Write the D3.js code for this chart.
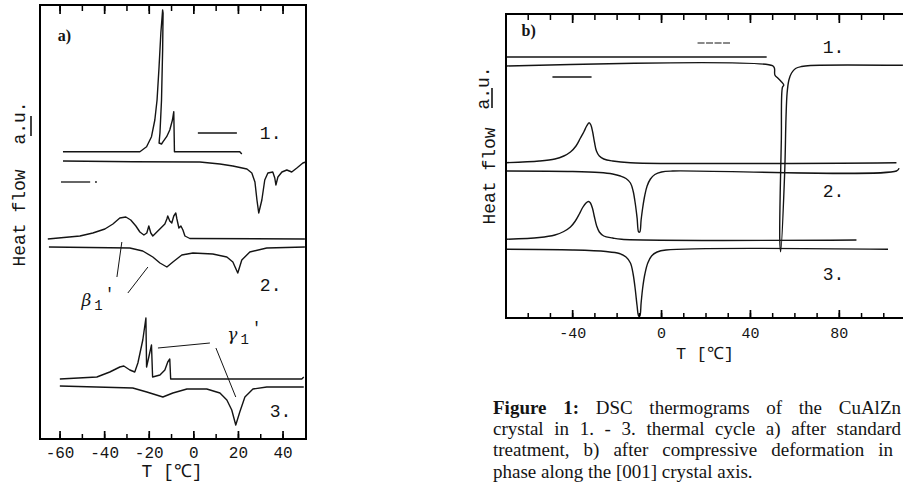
<!DOCTYPE html>
<html><head><meta charset="utf-8">
<script src="https://cdn.jsdelivr.net/npm/d3@7"></script>
<style>
html,body{margin:0;padding:0;background:#fff;overflow:hidden}
svg{display:block}
</style></head><body>
<svg id="c" width="903" height="484"></svg>
<script>
// ---------- DATA (T in °C, heat flow in arbitrary units) ----------
const aMajorTicks = [-60, -40, -20, 0, 20, 40];
const aMinorTicks = [-60, -50, -40, -30, -20, -10, 0, 10, 20, 30, 40];
const bMajorTicks = [-40, 0, 40, 80];
const bMinorTicks = [-60, -50, -40, -30, -20, -10, 0, 10, 20, 30, 40, 50, 60, 70, 80, 90, 100];

// Panel a) – cycle 1
const a1Cooling = [[-58.7,287.3],[-24.2,287.3],[-21.2,292.3],[-19.0,302.3],[-17.5,319],[-16.5,339],[-15.6,372.3],[-14.8,406],[-14.0,429],[-13.8,426],[-14.0,389],[-14.5,339],[-15.2,306],[-15.6,296],[-14.5,295],[-13.8,297.3],[-12.2,302.3],[-10.8,309],[-9.6,319],[-9.0,327.3],[-8.7,287.3],[20.6,287.3],[21.5,285]];
const a1Heating = [[-58.7,278],[-27.4,277.3],[2.7,277],[7.2,276],[11.7,275],[17.5,273],[23.8,270],[26.0,266],[27.4,257],[28.3,239],[29.1,226],[30.5,239],[31.8,259],[33.2,266],[35.4,267],[36.3,261],[36.8,254],[37.7,262],[39.5,267],[41.7,269],[43.9,267],[46.2,271],[48.9,276],[50.2,277]];
// Panel a) – cycle 2
const a2Cooling = [[-65.5,200],[-51.1,203],[-45.3,206],[-39.9,210],[-36.3,215],[-33.2,221],[-30.5,222],[-28.3,219],[-26.0,213],[-24.2,207],[-22.4,204],[-21.1,206],[-20.2,213],[-19.3,206],[-18.4,203],[-16.6,207],[-14.8,211],[-13.0,215],[-12.1,220],[-11.7,223],[-10.8,218],[-9.9,216],[-9.0,223],[-8.1,226],[-7.6,220],[-6.7,211],[-5.8,213],[-4.9,209],[-4.0,203],[-1.8,200.5],[49.8,200]];
const a2Heating = [[-65.0,192],[-28.7,191],[-22.9,188],[-18.4,182],[-15.2,176],[-12.1,172],[-9.4,177],[-5.4,184],[-0.4,186],[8.5,185],[14.8,182],[17.5,177],[19.7,166],[21.5,179],[25.1,187],[32.7,191],[49.8,192]];
// Panel a) – cycle 3
const a3Cooling = [[-60.1,60],[-43.5,62],[-37.7,67],[-33.2,72],[-31.4,73],[-28.7,69],[-26.5,67],[-25.1,76],[-22.9,99],[-21.5,121],[-21.2,72],[-20.2,82],[-19.0,94],[-18.5,62],[-15.2,64],[-13.0,69],[-11.7,77],[-10.8,80],[-10.4,60],[48.4,60],[49.3,62]];
const a3Heating = [[-60.1,53],[-27.4,51],[-21.1,47],[-13.9,42],[-9.4,46],[-3.1,50],[5.8,50],[11.7,46],[14.8,39],[17.0,29],[18.8,14],[20.6,27],[22.9,42],[26.5,50],[32.7,52],[49.3,52]];

// Panel b) – cycles 1..3
const b1Cooling = [[-69.8,261],[47.3,261]];
const b1Heating = [[-69.8,252],[49.9,252.3],[50.8,249.7],[51.0,243],[52.4,239.7],[53.9,236.3],[55.0,233],[54.4,230.7],[53.9,178],[53.2,78],[53.6,66.3],[55.4,145],[56.0,200],[56.5,225],[57.3,238],[58.5,245],[60.3,249.5],[63.0,251.5],[67.0,252.5],[108.6,252.7]];
const b2Cooling = [[-70.0,155.3],[-55.0,157],[-48.0,159],[-44.0,162],[-41.0,166],[-38.5,172],[-36.5,180],[-35.0,186],[-33.7,192],[-32.6,195.3],[-31.8,193],[-31.0,186],[-30.2,176],[-29.3,167],[-28.0,162],[-26.0,159],[-22.0,157],[-14.0,155.3],[105.7,155.3]];
const b2Heating = [[-70.0,147],[-40.0,146.5],[-28.0,145.5],[-22.0,144],[-18.5,142],[-16.0,139.5],[-14.0,135],[-12.8,127],[-11.8,114],[-11.0,100],[-10.3,86],[-9.8,86],[-9.2,98],[-8.5,110],[-7.6,122],[-6.5,132],[-5.0,139],[-3.0,143.5],[0.0,146],[5.0,147],[105.7,147],[106.9,149.7]];
const b3Cooling = [[-70.0,78.7],[-55.0,80.5],[-48.0,83],[-44.0,86.5],[-41.0,91],[-38.8,97],[-37.0,104],[-35.5,110.5],[-34.0,115],[-32.9,116.5],[-32.0,115],[-31.0,109],[-30.2,101],[-29.2,92],[-28.0,86],[-26.0,82],[-22.0,80],[-18.0,78.7],[87.7,78]];
const b3Heating = [[-70.0,68.7],[-40.0,68],[-25.0,66.5],[-19.0,64.5],[-16.0,61],[-14.0,55],[-12.8,44],[-11.8,28],[-11.0,12],[-10.3,2],[-9.8,2],[-9.2,15],[-8.5,30],[-7.5,44],[-6.2,55],[-4.5,62],[-2.0,66],[2.0,68],[101.9,68.7]];

const yLabel = "Heat flow";
const yUnit = "a.u.";
const xLabel = "T  [℃]";
const captionLines = [
  ["Figure 1:", " DSC thermograms of the CuAlZn"],
  ["", "crystal in 1. - 3. thermal cycle a) after standard"],
  ["", "treatment, b) after compressive deformation in"],
  ["", "phase along the [001] crystal axis."]
];

// ---------- DRAWING ----------
const svg = d3.select("#c");
const ink = "#141414";
const mono = "'Liberation Mono','DejaVu Sans Mono',monospace";

const xa = d3.scaleLinear().domain([-69, 50.3]).range([40, 306]);
const ya = d3.scaleLinear().domain([0, 434]).range([439, 5]);
const xb = d3.scaleLinear().domain([-70, 110]).range([506, 906]);
const yb = d3.scaleLinear().domain([0, 304]).range([318, 14]);

function drawTicks(g, x, vals, yPos, dir, len, w) {
  g.append("g").selectAll("path").data(vals).join("path")
    .attr("d", d => `M${x(d)},${yPos}V${yPos + dir * len}`)
    .attr("fill", "none").attr("stroke", "#000").attr("stroke-width", w);
}

function drawCurve(g, x, y, data, smooth) {
  const line = d3.line().x(d => x(d[0])).y(d => y(d[1]));
  if (smooth) line.curve(d3.curveCatmullRom.alpha(0.5));
  g.append("path").datum(data).attr("d", line)
    .attr("fill", "none").attr("stroke", ink).attr("stroke-width", 1.4)
    .attr("stroke-linejoin", "round");
}

function panel(g, x, y, majors, minors, fontSize, pad, curves, smooth) {
  const [x0, x1] = x.range();
  const [yBot, yTop] = y.range();
  curves.forEach(d => drawCurve(g, x, y, d, smooth));
  g.append("rect").attr("x", x0).attr("y", yTop).attr("width", x1 - x0).attr("height", yBot - yTop)
    .attr("fill", "none").attr("stroke", "#000").attr("stroke-width", 2);
  drawTicks(g, x, minors, yBot, -1, 5, 1.5);
  drawTicks(g, x, majors, yBot, -1, 8, 1.7);
  drawTicks(g, x, minors, yTop, 1, 6, 1.5);
  drawTicks(g, x, majors, yTop, 1, 9, 1.7);
  g.append("g").selectAll("text").data(majors).join("text")
    .attr("x", d => x(d)).attr("y", yBot + pad).attr("dy", "0.71em")
    .attr("text-anchor", "middle").attr("font-family", mono).attr("font-size", fontSize)
    .attr("fill", ink).text(d => String(d));
}

const gA = svg.append("g");
const gB = svg.append("g");
panel(gA, xa, ya, aMajorTicks, aMinorTicks, 16, 8,
  [a1Cooling, a1Heating, a2Cooling, a2Heating, a3Cooling, a3Heating], false);
panel(gB, xb, yb, bMajorTicks, bMinorTicks, 15, 9,
  [b1Cooling, b1Heating, b2Cooling, b2Heating, b3Cooling, b3Heating], true);

function txt(g, x, y, T, V, s, opts = {}) {
  return g.append("text").attr("x", x(T)).attr("y", y(V)).text(s)
    .attr("font-family", opts.family || mono).attr("font-size", opts.size || 18)
    .attr("font-weight", opts.weight || "normal").attr("fill", ink)
    .attr("font-style", opts.style || "normal");
}
function seg(g, x, y, T1, V1, T2, V2, w = 1.2, dash = null) {
  const l = g.append("line").attr("x1", x(T1)).attr("y1", y(V1)).attr("x2", x(T2)).attr("y2", y(V2))
    .attr("stroke", ink).attr("stroke-width", w);
  if (dash) l.attr("stroke-dasharray", dash);
  return l;
}

// panel a annotations
txt(gA, xa, ya, -61, 398, "a)", { family: "'Liberation Serif',serif", size: 16, weight: "bold" });
seg(gA, xa, ya, 1.8, 306, 19.3, 306, 1.3);
txt(gA, xa, ya, 29.6, 300, "1.");
seg(gA, xa, ya, -59.6, 257, -46.5, 257, 1.3);
seg(gA, xa, ya, -44.3, 257, -43.5, 257, 1.3);
txt(gA, xa, ya, 29.6, 148, "2.");
txt(gA, xa, ya, 34.0, 22, "3.");
const beta = txt(gA, xa, ya, -50.4, 133, "", { family: "'DejaVu Serif',serif", size: 17 });
beta.append("tspan").text("β").attr("font-style", "italic");
beta.append("tspan").text("1").attr("font-family", mono).attr("font-size", 14).attr("dx", 3).attr("dy", 4);
beta.append("tspan").text("'").attr("font-family", mono).attr("font-size", 16).attr("dx", 2).attr("dy", -11);
seg(gA, xa, ya, -32.3, 197, -34.5, 162, 1);
seg(gA, xa, ya, -20.6, 172, -29.6, 146, 1);
const gam = txt(gA, xa, ya, 15.0, 99, "", { family: "'DejaVu Serif',serif", size: 17 });
gam.append("tspan").text("γ").attr("font-style", "italic");
gam.append("tspan").text("1").attr("font-family", mono).attr("font-size", 14).attr("dx", 3).attr("dy", 4);
gam.append("tspan").text("'").attr("font-family", mono).attr("font-size", 16).attr("dx", 3).attr("dy", -11);
seg(gA, xa, ya, -16.1, 91, 7.2, 96, 1);
seg(gA, xa, ya, 9.9, 91, 18.8, 42, 1);

// panel b annotations
txt(gB, xb, yb, -63.0, 282, "b)", { family: "'Liberation Serif',serif", size: 16, weight: "bold" });
seg(gB, xb, yb, 16.2, 275, 31.5, 275, 1.2, "7,1.5");
txt(gB, xb, yb, 72.5, 265, "1.");
seg(gB, xb, yb, -49.1, 241, -31.5, 241, 1.3);
txt(gB, xb, yb, 72.5, 121, "2.");
txt(gB, xb, yb, 72.5, 38, "3.");

// axis titles
function yTitle(cx, cyMain, cyUnit, barX, bar0, bar1, unitShift) {
  svg.append("text").attr("transform", `translate(${cx},${cyMain}) rotate(-90)`)
    .attr("text-anchor", "middle").attr("font-family", mono).attr("font-size", 18).attr("fill", ink).text(yLabel);
  svg.append("text").attr("transform", `translate(${cx - unitShift},${cyUnit}) rotate(-90)`)
    .attr("text-anchor", "middle").attr("font-family", mono).attr("font-size", 18).attr("fill", ink).text(yUnit);
  svg.append("line").attr("x1", barX).attr("x2", barX).attr("y1", bar0).attr("y2", bar1)
    .attr("stroke", ink).attr("stroke-width", 1.6);
}
yTitle(25, 218, 123, 31, 116, 136, 0);
yTitle(495, 176, 88, 492, 88, 108, 6);

svg.append("text").attr("x", 172).attr("y", 477).attr("text-anchor", "middle")
  .attr("font-family", mono).attr("font-size", 18).attr("fill", ink).text(xLabel);
svg.append("text").attr("x", 705).attr("y", 359).attr("text-anchor", "middle")
  .attr("font-family", mono).attr("font-size", 17).attr("fill", ink).text(xLabel);

// caption (justified like the printed page)
const capTargets = [408, 408, 400, null];
const cap = svg.append("g");
captionLines.forEach((ln, i) => {
  const t = cap.append("text").attr("x", 493).attr("y", 414 + i * 21.2)
    .attr("font-family", "'Liberation Serif','Times New Roman',serif").attr("font-size", 19).attr("fill", ink);
  if (ln[0]) t.append("tspan").attr("font-weight", "bold").text(ln[0]);
  t.append("tspan").text(ln[1]);
  const target = capTargets[i];
  if (target) {
    const nat = t.node().getComputedTextLength();
    const spaces = (ln[0] + ln[1]).split(" ").length - 1;
    if (spaces > 0 && nat < target) t.attr("word-spacing", (target - nat) / spaces);
  }
});
</script>
</body></html>
